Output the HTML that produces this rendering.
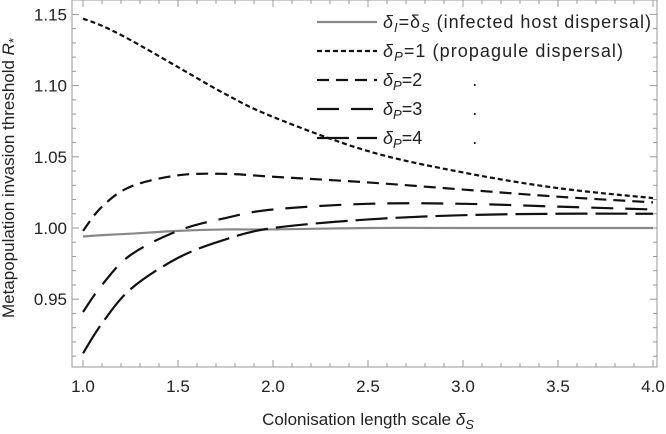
<!DOCTYPE html>
<html><head><meta charset="utf-8"><style>
body{margin:0;background:#fff;}
svg{display:block;font-family:"Liberation Sans",sans-serif;}
text{white-space:pre;}
</style></head><body>
<svg id="chart" width="666" height="434" viewBox="0 0 666 434" xmlns="http://www.w3.org/2000/svg">
<g id="axes"></g>
<g id="series"></g>
<g id="legend"></g>
<text x="368" y="425" text-anchor="middle" font-size="17" fill="#222">Colonisation length scale <tspan font-style="italic">δ</tspan><tspan font-style="italic" font-size="13" dy="4">S</tspan></text>
<text transform="translate(14,178) rotate(-90)" text-anchor="middle" font-size="17" fill="#222">Metapopulation invasion threshold <tspan font-style="italic">R</tspan><tspan font-size="13" dy="4">*</tspan></text>
</svg>
<script>
const xs = [1.0, 1.1, 1.25, 1.5, 1.75, 2.0, 2.5, 3.0, 3.5, 4.0];
const seriesGray = [0.994, 0.995, 0.996, 0.998, 0.999, 0.999, 1.0, 1.0, 1.0, 1.0];
const seriesP1 = [1.147, 1.142, 1.132, 1.113, 1.094, 1.078, 1.054, 1.039, 1.028, 1.021];
const seriesP2 = [0.998, 1.015, 1.029, 1.037, 1.038, 1.036, 1.032, 1.027, 1.022, 1.018];
const seriesP3 = [0.941, 0.960, 0.981, 0.998, 1.007, 1.013, 1.017, 1.017, 1.015, 1.013];
const seriesP4 = [0.912, 0.933, 0.957, 0.979, 0.992, 1.000, 1.006, 1.009, 1.010, 1.010];
const xTicks = [1.0, 1.5, 2.0, 2.5, 3.0, 3.5, 4.0];
const yTicks = [0.95, 1.00, 1.05, 1.10, 1.15];

const NS = "http://www.w3.org/2000/svg";
const L = 72, R = 657, T = 0, B = 367;
function xS(v){ return 83 + (v - 1) * 190; }
function yS(v){ return 228 - (v - 1) * 1424; }
function mk(tag, attrs, parent){
  const e = document.createElementNS(NS, tag);
  for (const k in attrs) e.setAttribute(k, attrs[k]);
  parent.appendChild(e); return e;
}
const axes = document.getElementById('axes');
const frame = mk('rect', {x:L, y:T, width:R-L, height:B-T, fill:'none', stroke:'#999', 'stroke-width':1}, axes);


for (let v = 1.0; v <= 4.0001; v += 0.1) {
  const major = Math.abs(v*2 - Math.round(v*2)) < 1e-6;
  const len = major ? 7 : 4;
  const x = xS(v);
  const t1 = mk('line', {x1:x, x2:x, y1:B, y2:B-len, stroke:'#999'}, axes);
  
  
  const t2 = mk('line', {x1:x, x2:x, y1:T, y2:T+len, stroke:'#999'}, axes);
  
  
}
for (let v = 0.91; v <= 1.16; v += 0.01) {
  const major = Math.abs(v*20 - Math.round(v*20)) < 1e-6;
  const len = major ? 7 : 4;
  const y = yS(v);
  if (y < T || y > B) continue;
  const t1 = mk('line', {x1:L, x2:L+len, y1:y, y2:y, stroke:'#999'}, axes);
  
  
  const t2 = mk('line', {x1:R, x2:R-len, y1:y, y2:y, stroke:'#999'}, axes);
  
  
}
xTicks.forEach(v => {
  const t = mk('text', {x:xS(v), y:392, 'text-anchor':'middle', 'font-size':17, fill:'#222'}, axes);
  t.textContent = v.toFixed(1);
  
  
});
yTicks.forEach(v => {
  const t = mk('text', {x:L-5, y:yS(v)+6, 'text-anchor':'end', 'font-size':17, fill:'#222'}, axes);
  t.textContent = v.toFixed(2);
  
  
});
const sg = document.getElementById('series');
const defs = [
  {d:seriesGray, stroke:'#888', dash:'', name:'series-infected-host'},
  {d:seriesP1, stroke:'#111', dash:'5 3', name:'series-deltap-1'},
  {d:seriesP2, stroke:'#111', dash:'12 7', name:'series-deltap-2'},
  {d:seriesP3, stroke:'#111', dash:'22 12', name:'series-deltap-3'},
  {d:seriesP4, stroke:'#111', dash:'32 8', name:'series-deltap-4'}
];
function smoothPath(px){
  let d = 'M' + px[0][0] + ',' + px[0][1];
  for (let i = 0; i < px.length - 1; i++) {
    const p0 = px[Math.max(0,i-1)], p1 = px[i], p2 = px[i+1], p3 = px[Math.min(px.length-1,i+2)];
    const c1x = p1[0] + (p2[0]-p0[0])/6, c1y = p1[1] + (p2[1]-p0[1])/6;
    const c2x = p2[0] - (p3[0]-p1[0])/6, c2y = p2[1] - (p3[1]-p1[1])/6;
    d += ' C' + c1x + ',' + c1y + ' ' + c2x + ',' + c2y + ' ' + p2[0] + ',' + p2[1];
  }
  return d;
}
defs.forEach(s => {
  const px = xs.map((x,i) => [xS(x), yS(s.d[i])]);
  const p = mk('path', {d:smoothPath(px), fill:'none', stroke:s.stroke, 'stroke-width':2.2, 'stroke-dasharray':s.dash}, sg);
  
  
});
const lg = document.getElementById('legend');
const labels = [
  ['I','=δ','S',' (infected host dispersal)'],
  ['P','=1','',' (propagule dispersal)'],
  ['P','=2','','          .'],
  ['P','=3','','          .'],
  ['P','=4','','          .']
];
const legendWidths = [268, 240, 0, 0, 0];
defs.forEach((s, i) => {
  const y = 22 + i * 29;
  const ln = mk('line', {x1:317, x2:377, y1:y, y2:y, stroke:s.stroke, 'stroke-width':2.2, 'stroke-dasharray':s.dash}, lg);
  
  
  const t = mk('text', {x:383, y:y+6, 'font-size':18, fill:'#222'}, lg);
  if (legendWidths[i]) { t.setAttribute('textLength', legendWidths[i]); t.setAttribute('lengthAdjust', 'spacing'); }
  
  
  const lab = labels[i];
  let html = '<tspan font-style="italic">δ</tspan><tspan font-style="italic" font-size="13" dy="4">' + lab[0] + '</tspan><tspan dy="-4">' + lab[1] + '</tspan>';
  if (lab[2]) html += '<tspan font-style="italic" font-size="13" dy="4">' + lab[2] + '</tspan><tspan dy="-4">' + lab[3] + '</tspan>';
  else html += '<tspan>' + lab[3] + '</tspan>';
  t.innerHTML = html;
});
</script>
</body></html>
